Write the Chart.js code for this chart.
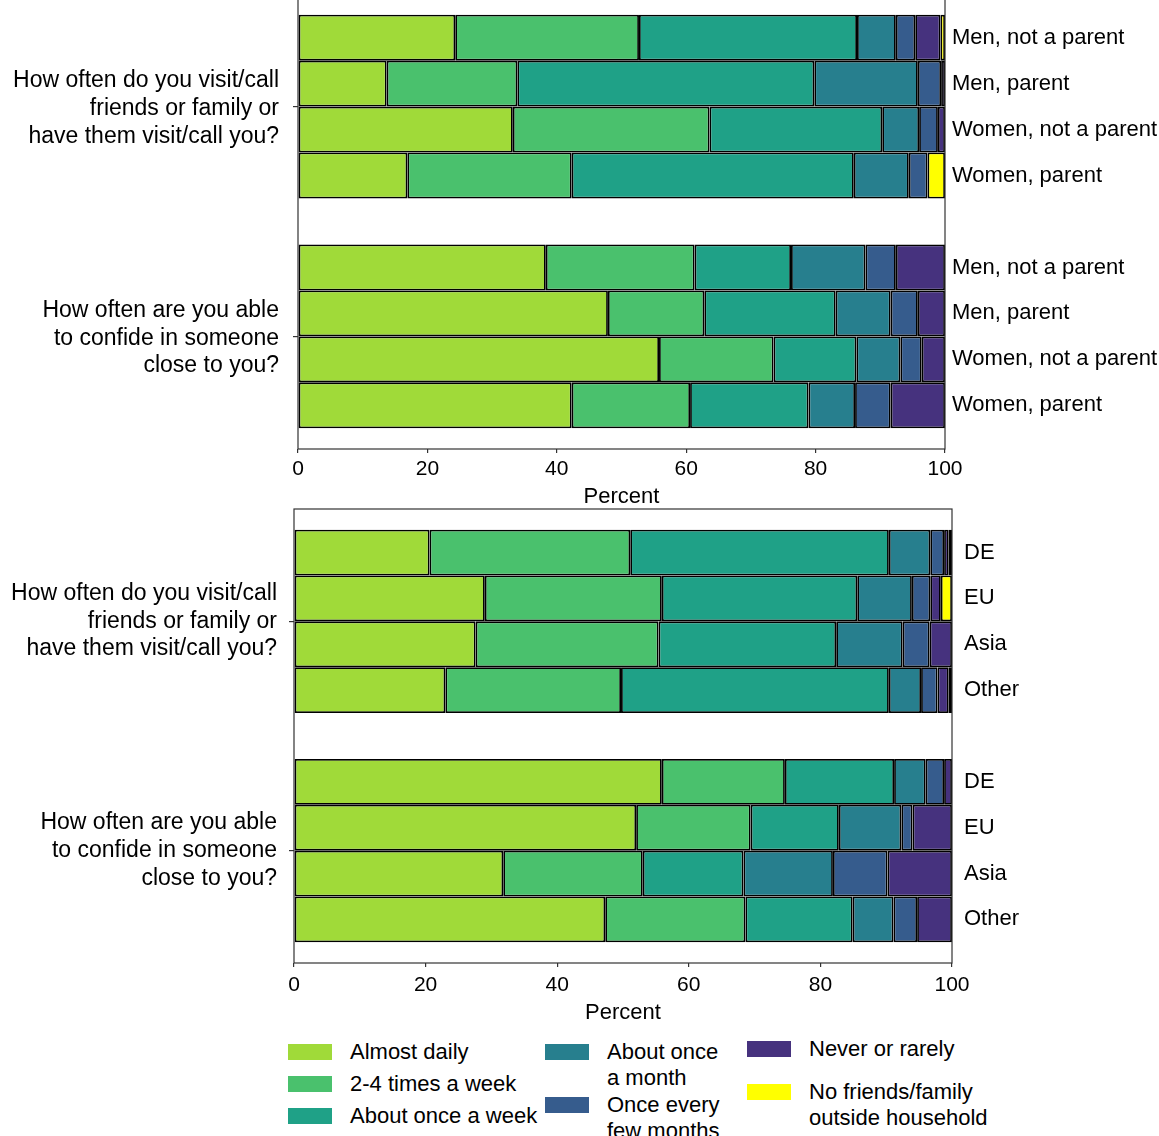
<!DOCTYPE html>
<html>
<head>
<meta charset="utf-8">
<script src="https://cdn.jsdelivr.net/npm/chart.js@4.4.1/dist/chart.umd.min.js"></script>
<style>
  html, body { margin: 0; padding: 0; background: #fff; overflow: hidden; }
  body { width: 1159px; height: 1136px; position: relative; font-family: "Liberation Sans", Arial, sans-serif; color: #000; }
  canvas { position: absolute; left: 0; }
  #legend .col { position: absolute; }
  #legend .item { display: flex; align-items: flex-start; }
  #legend .swatch { width: 44px; height: 16px; margin-top: 5px; margin-right: 18px; flex: none; }
  #legend .text { font-size: 22px; line-height: 26px; }
  #legend .col:nth-child(1) { left: 288px; top: 1039px; }
  #legend .col:nth-child(1) .item + .item { margin-top: 6px; }
  #legend .col:nth-child(1) .text { white-space: nowrap; }
  #legend .col:nth-child(2) { left: 545px; top: 1039px; }
  #legend .col:nth-child(2) .item + .item { margin-top: 1px; }
  #legend .col:nth-child(2) .text { width: 120px; }
  #legend .col:nth-child(3) { left: 747px; top: 1036px; }
  #legend .col:nth-child(3) .item + .item { margin-top: 17px; }
  #legend .col:nth-child(3) .text { width: 190px; }
</style>
</head>
<body>
<canvas id="chartTop" width="1159" height="530" style="top:-20px"></canvas>
<canvas id="chartBottom" width="1159" height="530" style="top:500px"></canvas>
<div id="legend"></div>

<script>
const ANSWERS = [
  "Almost daily",
  "2-4 times a week",
  "About once a week",
  "About once a month",
  "Once every few months",
  "Never or rarely",
  "No friends/family outside household",
];
const ANSWER_COLORS = ["#a0da39", "#4ac16d", "#1fa187", "#277f8e", "#365c8d", "#46327e", "#ffff00"];

const QUESTIONS = [
  ["How often do you visit/call", "friends or family or", "have them visit/call you?"],
  ["How often are you able", "to confide in someone", "close to you?"],
];
const PARENT_GROUPS = ["Men, not a parent", "Men, parent", "Women, not a parent", "Women, parent"];
const REGION_GROUPS = ["DE", "EU", "Asia", "Other"];
const X_TICKS = [0, 20, 40, 60, 80, 100];

// percent per answer; rows are visit/call for each group, then confide for each group
const parentShares = [
  [24.3, 13.7, 33.2, 16.9, 38.3, 47.9, 55.8, 42.3],
  [28.4, 20.2, 30.4, 25.4, 23.0, 14.9, 17.7, 18.3],
  [33.7, 45.9, 26.7, 43.6, 14.9, 20.3, 12.8, 18.3],
  [6.0, 16.0, 5.7, 8.5, 11.5, 8.5, 6.8, 7.2],
  [3.0, 3.6, 2.9, 2.9, 4.7, 4.2, 3.3, 5.5],
  [3.9, 0.6, 1.1, 0.0, 7.6, 4.2, 3.6, 8.4],
  [0.7, 0.0, 0.0, 2.7, 0.0, 0.0, 0.0, 0.0],
];
const regionShares = [
  [20.6, 29.0, 27.6, 23.0, 55.9, 52.0, 31.8, 47.3],
  [30.5, 26.9, 27.8, 26.7, 18.7, 17.4, 21.2, 21.3],
  [39.3, 29.7, 27.0, 40.7, 16.6, 13.4, 15.3, 16.3],
  [6.3, 8.3, 10.1, 4.9, 4.8, 9.5, 13.6, 6.2],
  [2.1, 2.8, 4.1, 2.5, 2.8, 1.7, 8.3, 3.6],
  [0.7, 1.6, 3.4, 1.7, 1.2, 6.0, 9.8, 5.3],
  [0.5, 1.7, 0.0, 0.5, 0.0, 0.0, 0.0, 0.0],
];

const LEGEND_COLUMNS = [[0, 1, 2], [3, 4], [5, 6]];
const PAGE_WIDTH = 1159;

Chart.defaults.font.family = '"Liberation Sans", Arial, sans-serif';
Chart.defaults.color = "#000";

// black box round the plot area
const framePlugin = {
  id: "frame",
  afterDatasetsDraw(chart) {
    const { ctx, chartArea: a } = chart;
    ctx.save();
    ctx.strokeStyle = "#333";
    ctx.lineWidth = 1.2;
    ctx.strokeRect(a.left, a.top, a.right - a.left, a.bottom - a.top);
    ctx.restore();
  },
};

// keep edge labels from pushing the plot area inwards
function noEdgePadding(s) {
  s.paddingTop = 0;
  s.paddingBottom = 0;
  s.paddingLeft = 0;
  s.paddingRight = 0;
}

function makePanel(p) {
  const perGroup = p.groups.length;
  const slot = perGroup + 1; // one empty row between the two questions
  const rowPositions = [];
  QUESTIONS.forEach((q, g) => {
    for (let k = 0; k < perGroup; k++) rowPositions.push(g * slot + k);
  });
  const centers = QUESTIONS.map((q, g) => g * slot + (perGroup - 1) / 2);

  const lo = -0.5;
  const hi = rowPositions[rowPositions.length - 1] + 0.5;
  const margin = 0.05 * (hi - lo);

  const tickGrid = { display: true, drawOnChartArea: false, offset: false, color: "#333", lineWidth: 1.2 };

  return new Chart(document.getElementById(p.id), {
    type: "bar",
    data: {
      datasets: ANSWERS.map((label, a) => ({
        label,
        data: p.shares[a].map((v, r) => ({ x: v, y: rowPositions[r] })),
        backgroundColor: ANSWER_COLORS[a],
        borderColor: "#000",
        borderWidth: 1.8,
        borderSkipped: false,
        inflateAmount: 0,
        categoryPercentage: 1,
        barPercentage: 1,
        xAxisID: "x",
        yAxisID: "y",
      })),
    },
    options: {
      indexAxis: "y",
      responsive: false,
      animation: false,
      events: [],
      layout: { padding: { top: p.padTop, left: 0, right: 0, bottom: 0 } },
      plugins: { legend: { display: false }, tooltip: { enabled: false } },
      scales: {
        x: {
          type: "linear",
          position: "bottom",
          min: 0,
          max: 100,
          stacked: true,
          offset: false,
          afterBuildTicks: (s) => { s.ticks = X_TICKS.map((v) => ({ value: v })); },
          ticks: { font: { size: 21 }, padding: p.xPad, maxRotation: 0 },
          grid: { ...tickGrid, tickLength: 4 },
          border: { display: false },
          title: { display: true, text: "Percent", font: { size: 22 }, padding: { top: 0, bottom: p.titlePad } },
          afterFit: (s) => { s.height = p.axisH; noEdgePadding(s); },
        },
        y: {
          type: "linear",
          position: "left",
          reverse: true,
          stacked: true,
          offset: false,
          min: lo - margin,
          max: hi + margin,
          afterBuildTicks: (s) => { s.ticks = centers.map((v) => ({ value: v })); },
          ticks: {
            autoSkip: false,
            font: { size: 23, lineHeight: 1.2 },
            padding: p.qGap,
            labelOffset: p.qShift,
            callback: (v) => QUESTIONS[centers.indexOf(v)],
          },
          grid: { ...tickGrid, tickLength: 5 },
          border: { display: false },
          afterFit: (s) => { s.width = p.left; noEdgePadding(s); },
        },
        y2: {
          type: "linear",
          position: "right",
          reverse: true,
          offset: false,
          min: lo - margin,
          max: hi + margin,
          afterBuildTicks: (s) => { s.ticks = rowPositions.map((v) => ({ value: v })); },
          ticks: {
            autoSkip: false,
            font: { size: 22 },
            padding: p.labelGap,
            callback: (v) => p.groups[rowPositions.indexOf(v) % perGroup],
          },
          grid: { display: false, drawTicks: false, offset: false },
          border: { display: false },
          afterFit: (s) => { s.width = PAGE_WIDTH - p.right; noEdgePadding(s); },
        },
      },
    },
    plugins: [framePlugin],
  });
}

const topChart = makePanel({
  id: "chartTop", groups: PARENT_GROUPS, shares: parentShares,
  padTop: 14, left: 298, right: 945, axisH: 61, titlePad: 0, xPad: 4,
  labelGap: 7, qGap: 14, qShift: 2,
});
makePanel({
  id: "chartBottom", groups: REGION_GROUPS, shares: regionShares,
  padTop: 9, left: 294, right: 952, axisH: 67, titlePad: 4, xPad: 6,
  labelGap: 12, qGap: 12, qShift: 0,
});

// legend in three columns, built from the datasets
function buildLegend(chart) {
  const root = document.getElementById("legend");
  LEGEND_COLUMNS.forEach((idxs) => {
    const col = document.createElement("div");
    col.className = "col";
    idxs.forEach((i) => {
      const ds = chart.data.datasets[i];
      const item = document.createElement("div");
      item.className = "item";
      const sw = document.createElement("span");
      sw.className = "swatch";
      sw.style.background = ds.backgroundColor;
      const txt = document.createElement("span");
      txt.className = "text";
      txt.textContent = ds.label;
      item.appendChild(sw);
      item.appendChild(txt);
      col.appendChild(item);
    });
    root.appendChild(col);
  });
}
buildLegend(topChart);
</script>
</body>
</html>
